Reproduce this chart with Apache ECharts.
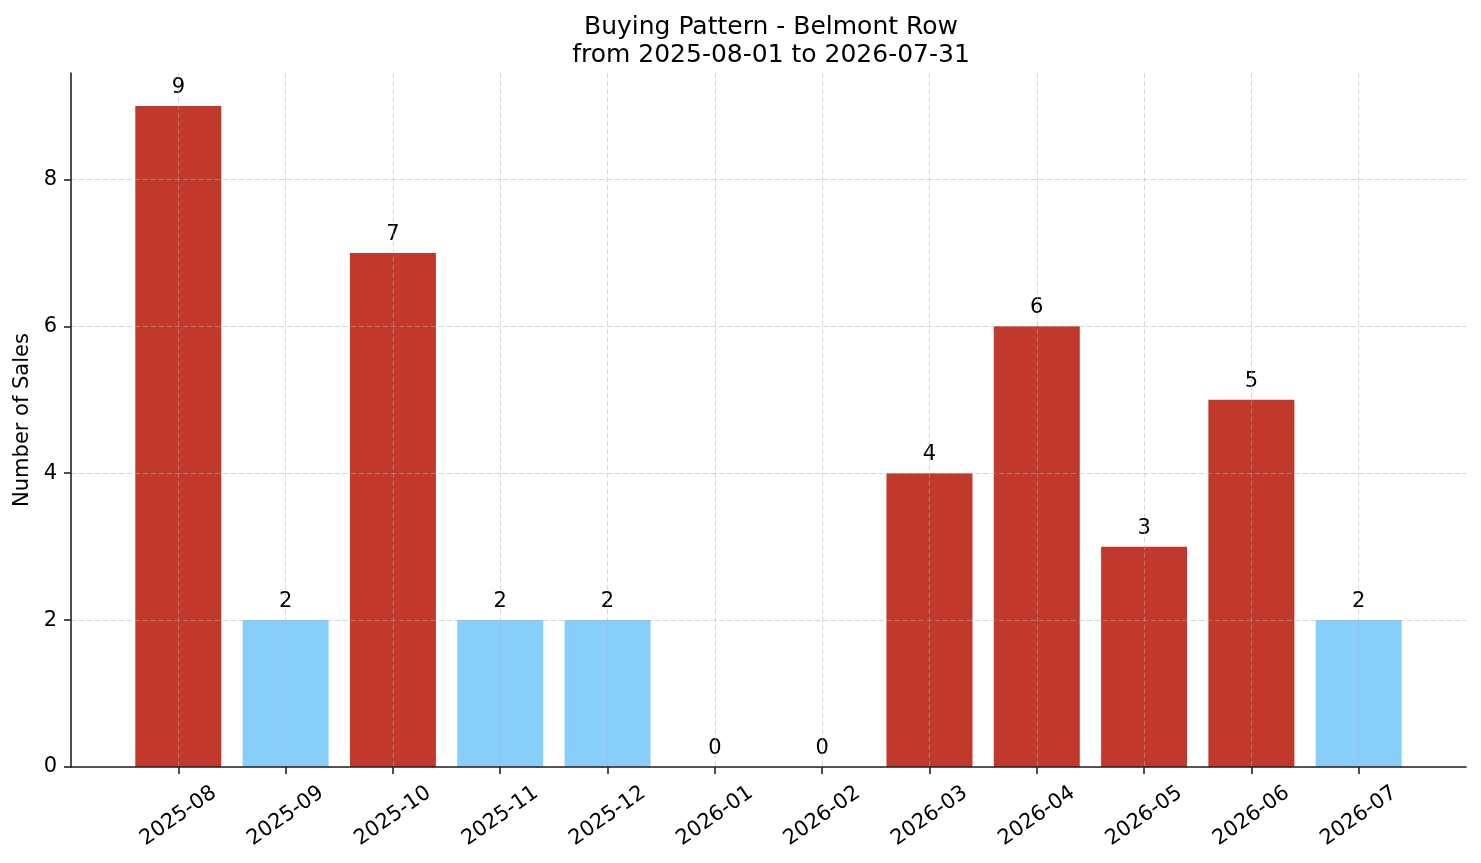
<!DOCTYPE html>
<html>
<head>
<meta charset="utf-8">
<script src="https://cdn.jsdelivr.net/npm/echarts@6/dist/echarts.min.js"></script>
<style>
html,body{margin:0;padding:0;background:#fff;}
#chart{width:1481px;height:863px;}
</style>
</head>
<body>
<div id="chart"></div>
<script>
const months = ['2025-08','2025-09','2025-10','2025-11','2025-12','2026-01','2026-02','2026-03','2026-04','2026-05','2026-06','2026-07'];
const sales = [9, 2, 7, 2, 2, 0, 0, 4, 6, 3, 5, 2];
const yTicks = [0, 2, 4, 6, 8];
const titleText = 'Buying Pattern - Belmont Row';
const subtitleText = 'from 2025-08-01 to 2026-07-31';
const yAxisName = 'Number of Sales';
const highThreshold = 2;

const RED = '#C0392B';
const BLUE = '#87CEFA';
const FONT = 'DejaVu Sans';
const GRID = {color: 'rgba(176,176,176,0.5)', width: 1, type: [5, 3]};
const positions = months.map((m, i) => i);

const chart = echarts.init(document.getElementById('chart'), null, {renderer: 'canvas'});
chart.setOption({
  animation: false,
  backgroundColor: '#fff',
  textStyle: {fontFamily: FONT},
  title: {
    text: titleText + '\n' + subtitleText,
    left: 766,
    top: 8,
    textAlign: 'center',
    textStyle: {fontFamily: FONT, fontSize: 25, fontWeight: 'normal', color: '#000', lineHeight: 28}
  },
  grid: {left: 71, right: 15, top: 73, bottom: 96, containLabel: false},
  xAxis: {
    type: 'value',
    min: -1,
    max: 12,
    interval: 1,
    z: 3,
    axisLine: {show: true, onZero: false, lineStyle: {color: '#222', width: 1.6}},
    axisTick: {show: true, length: 7, customValues: positions, lineStyle: {color: '#222', width: 1.6}},
    axisLabel: {
      customValues: positions,
      formatter: v => months[v] !== undefined ? months[v] : '',
      rotate: 35,
      align: 'center',
      verticalAlign: 'middle',
      margin: 49,
      fontFamily: FONT, fontSize: 21, color: '#000'
    },
    splitLine: {show: true, lineStyle: GRID}
  },
  yAxis: {
    type: 'value',
    min: 0,
    max: 9.45,
    interval: 2,
    z: 3,
    name: yAxisName,
    nameLocation: 'middle',
    nameGap: 36,
    nameTextStyle: {fontFamily: FONT, fontSize: 21, color: '#000'},
    axisLine: {show: true, onZero: false, lineStyle: {color: '#222', width: 1.6}},
    axisTick: {show: true, length: 7, customValues: yTicks, lineStyle: {color: '#222', width: 1.6}},
    axisLabel: {customValues: yTicks, margin: 14, fontFamily: FONT, fontSize: 21, color: '#000'},
    splitLine: {show: true, lineStyle: GRID}
  },
  series: [{
    type: 'bar',
    barWidth: 86,
    z: 2,
    data: sales.map((v, i) => ({
      value: [i, v],
      itemStyle: {color: v > highThreshold ? RED : BLUE}
    })),
    label: {
      show: true,
      position: 'top',
      distance: 8,
      formatter: p => String(p.value[1]),
      fontFamily: FONT, fontSize: 21, color: '#000'
    }
  }]
});
</script>
</body>
</html>
